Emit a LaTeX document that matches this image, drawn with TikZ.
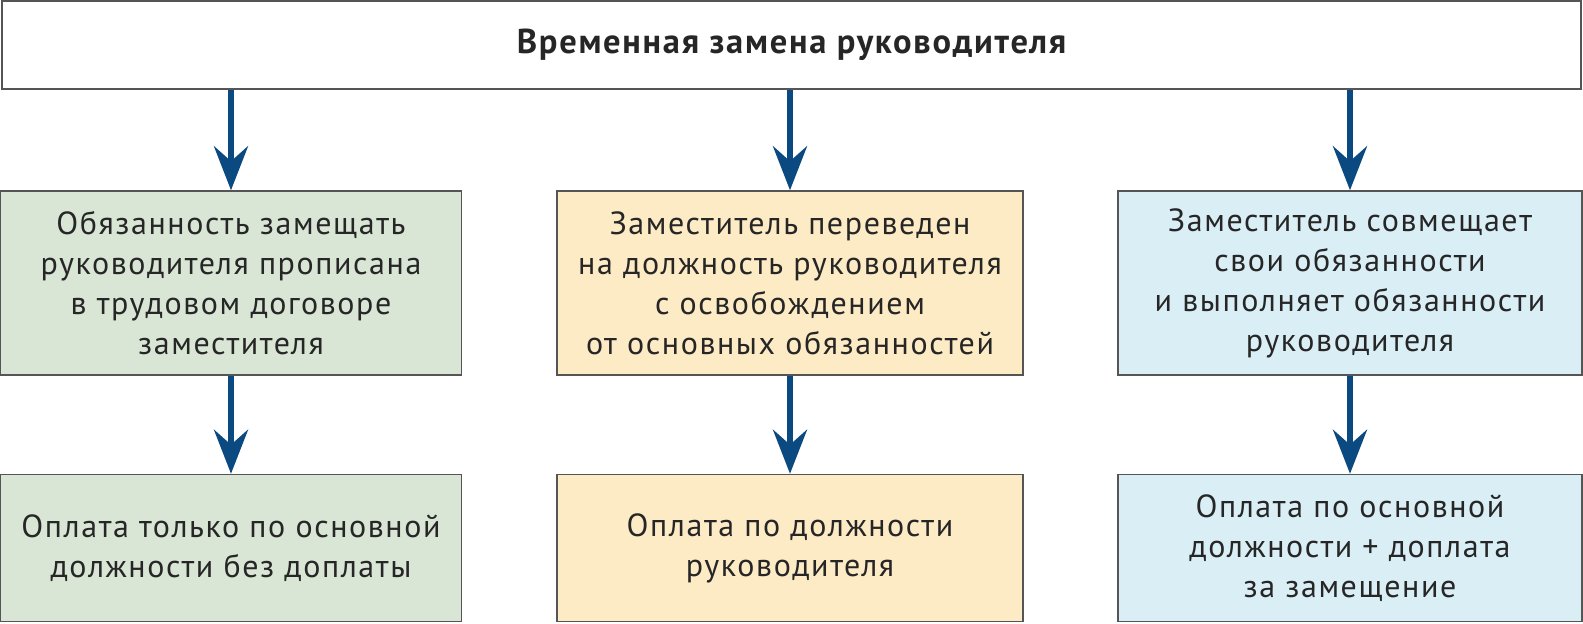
\documentclass[tikz,border=0pt]{standalone}
\usepackage{fontspec}
\setmainfont{PT Sans}[LetterSpace=5]
\usetikzlibrary{arrows.meta}
\definecolor{boxline}{RGB}{85,85,85}
\definecolor{arrowblue}{RGB}{10,74,128}
\definecolor{boxgreen}{RGB}{217,230,213}
\definecolor{boxorange}{RGB}{253,235,197}
\definecolor{boxblue}{RGB}{218,238,246}
\begin{document}
\begin{tikzpicture}[x=1pt,y=-1pt]
\tikzstyle{every node}+=[inner sep=0pt]
\tikzstyle{box}=[draw=boxline, line width=1.5pt, align=center, text=black!85, font=\fontsize{32}{40}\selectfont]
\tikzstyle{down}=[draw=arrowblue, line width=6pt, -{Stealth[length=44pt,width=34pt,inset=15pt,fill=arrowblue]}]
\useasboundingbox (0,0) rectangle (1583,624);
% title
\node [box, fill=white, minimum width=1579pt, minimum height=88pt, font=\fontsize{34.5}{40}\bfseries] (title) at (791.5,45) {Временная замена руководителя};
% first row
\node [box, fill=boxgreen, minimum width=461pt, minimum height=184pt] (duty) at (231,283) {Обязанность замещать\\руководителя прописана\\в трудовом договоре\\заместителя};
\node [box, fill=boxorange, minimum width=466pt, minimum height=184pt] (moved) at (790,283) {Заместитель переведен\\на должность руководителя\\с освобождением\\от основных обязанностей};
\node [box, fill=boxblue, minimum width=464pt, minimum height=184pt] (combine) at (1350,283) {Заместитель совмещает\\свои обязанности\\и выполняет обязанности\\руководителя};
% second row
\node [box, fill=boxgreen, minimum width=461pt, minimum height=147pt] (paybase) at (231,548) {Оплата только по основной\\должности без доплаты};
\node [box, fill=boxorange, minimum width=466pt, minimum height=147pt] (payhead) at (790,548) {Оплата по должности\\руководителя};
\node [box, fill=boxblue, minimum width=464pt, minimum height=147pt] (payextra) at (1350,548) {Оплата по основной\\должности + доплата\\за замещение};
% arrows
\draw [down] (title.south -| duty.north) -- (duty.north);
\draw [down] (title.south -| moved.north) -- (moved.north);
\draw [down] (title.south -| combine.north) -- (combine.north);
\draw [down] (duty) -- (paybase);
\draw [down] (moved) -- (payhead);
\draw [down] (combine) -- (payextra);
\end{tikzpicture}
\end{document}
